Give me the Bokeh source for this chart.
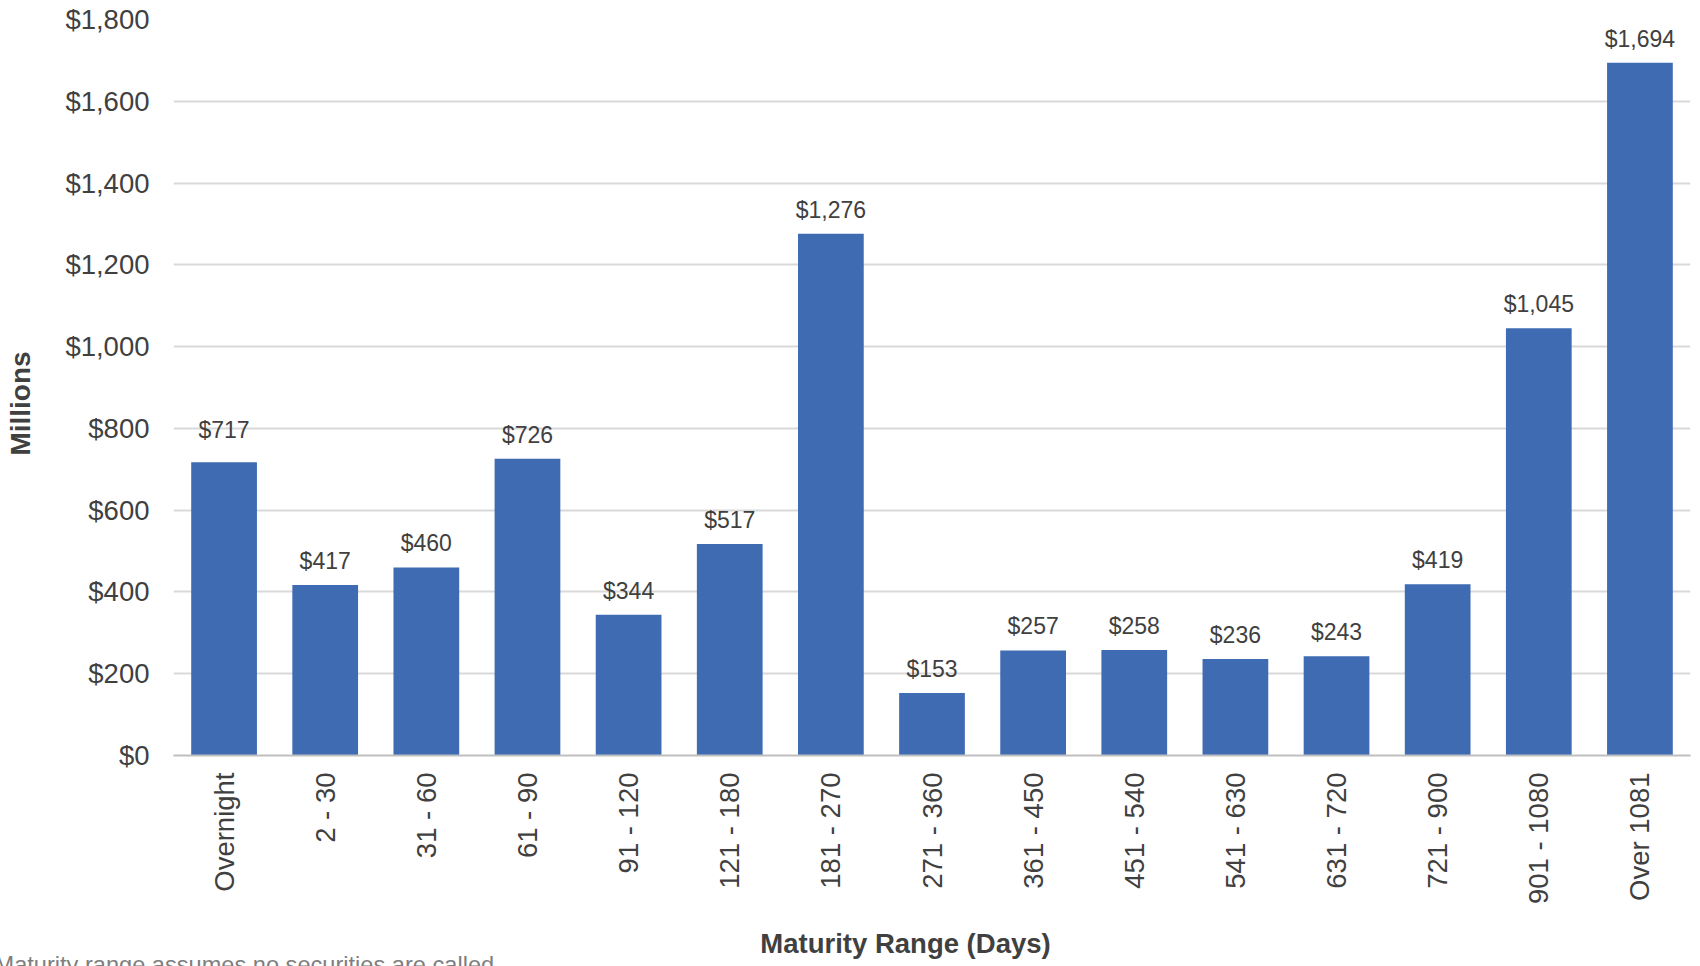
from math import pi
from bokeh.plotting import figure
from bokeh.models import (ColumnDataSource, FactorRange, Range1d, LabelSet, Label,
                          FixedTicker, NumeralTickFormatter)
from bokeh.core.properties import value
from bokeh.embed import file_html
from bokeh.resources import INLINE

categories = ["Overnight", "2 - 30", "31 - 60", "61 - 90", "91 - 120", "121 - 180",
              "181 - 270", "271 - 360", "361 - 450", "451 - 540", "541 - 630",
              "631 - 720", "721 - 900", "901 - 1080", "Over 1081"]
values = [717, 417, 460, 726, 344, 517, 1276, 153, 257, 258, 236, 243, 419, 1045, 1694]
y_ticks = [0, 200, 400, 600, 800, 1000, 1200, 1400, 1600, 1800]

FONT = "Liberation Sans"
TXT = "#404040"

W, H = 1700, 966
FL, FR, FT, FB = 173, 1690, 19, 755   # frame edges (pixels)
YMAX = 1800

# label offsets (px above bar top); the first label sits a little higher in the reference
offs = [16] * len(values)
offs[0] = 24

src = ColumnDataSource(dict(cat=categories, val=values,
                            lab=["${:,}".format(v) for v in values], off=offs))

p = figure(width=W, height=H, x_range=FactorRange(*categories), y_range=Range1d(0, YMAX),
           output_backend="svg", toolbar_location=None,
           min_border_left=FL, min_border_right=W - FR, min_border_top=FT,
           min_border_bottom=H - FB)
p.outline_line_color = None
p.background_fill_color = "white"
p.border_fill_color = "white"
p.x_range.range_padding = 0
p.x_range.factor_padding = 0

p.vbar(x="cat", top="val", width=0.65, source=src, fill_color="#3F6BB3", line_color=None)

labels = LabelSet(x="cat", y="val", text="lab", source=src, text_align="center",
                  text_baseline="alphabetic", y_offset="off", text_font=value(FONT),
                  text_font_size="23px", text_color=TXT)
p.add_layout(labels)

# axes
p.yaxis.ticker = FixedTicker(ticks=y_ticks)
p.yaxis.formatter = NumeralTickFormatter(format="$0,0")
p.yaxis.axis_line_color = None
p.yaxis.major_tick_line_color = None
p.yaxis.minor_tick_line_color = None
p.yaxis.major_tick_out = 0
p.yaxis.major_label_standoff = 24
p.yaxis.major_label_text_font = FONT
p.yaxis.major_label_text_font_size = "27.5px"
p.yaxis.major_label_text_color = TXT

p.xaxis.axis_line_color = "#BFBFBF"
p.xaxis.axis_line_width = 2
p.xaxis.major_tick_line_color = None
p.xaxis.minor_tick_line_color = None
p.xaxis.major_tick_out = 0
p.xaxis.major_label_standoff = 17
p.xaxis.major_label_orientation = pi / 2
p.xaxis.major_label_text_font = FONT
p.xaxis.major_label_text_font_size = "27.5px"
p.xaxis.major_label_text_color = TXT

p.xgrid.grid_line_color = None
p.ygrid.grid_line_color = "#D9D9D9"
p.ygrid.grid_line_width = 2

# pixel -> data helpers for text placement
def dx(px):
    return (px - FL) / ((FR - FL) / len(categories))

def dy(py):
    return (FB - py) * YMAX / (FB - FT)

# side-panel labels (not clipped to the plot frame)
p.add_layout(Label(x=dx(20), y=dy(403), text="Millions", angle=pi / 2,
                   text_align="center", text_baseline="alphabetic", text_font=FONT,
                   text_font_size="28px", text_font_style="bold", text_color=TXT), "left")
p.add_layout(Label(x=dx(905), y=dy(943), text="Maturity Range (Days)",
                   text_align="center", text_baseline="alphabetic", text_font=FONT,
                   text_font_size="27.5px", text_font_style="bold", text_color=TXT), "below")
p.add_layout(Label(x=dx(-6), y=dy(964), text="Maturity  range assumes no securities are called.",
                   text_align="left", text_baseline="alphabetic", text_font=FONT,
                   text_font_size="23.6px", text_color="#7F7F7F"), "below")

open("out.html", "w").write(file_html(p, INLINE))
